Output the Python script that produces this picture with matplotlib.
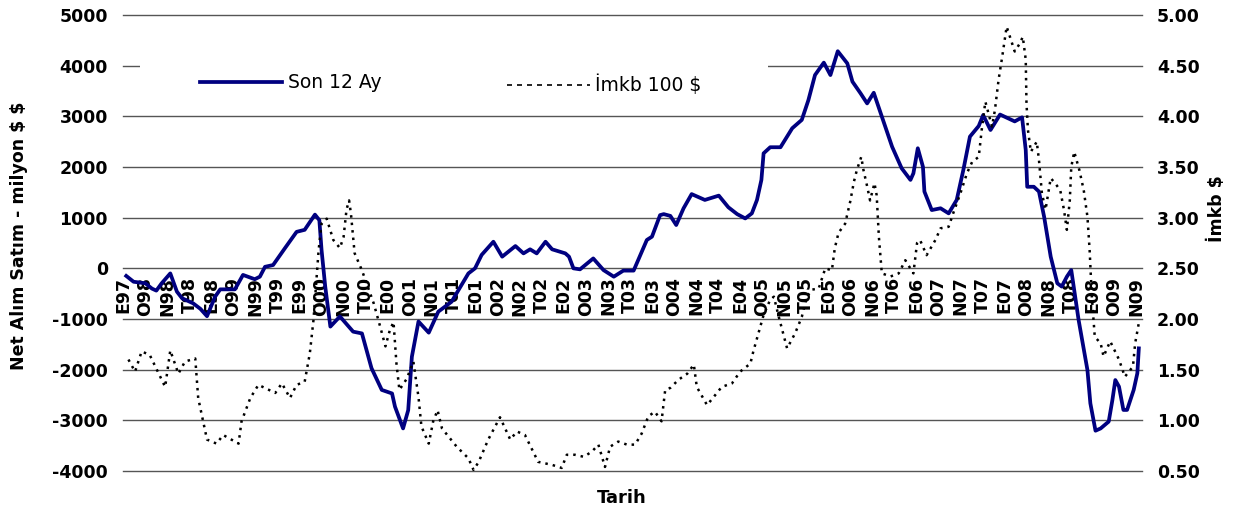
import matplotlib
matplotlib.use("Agg")
import matplotlib.pyplot as plt
from matplotlib.lines import Line2D
from matplotlib.patches import Rectangle

plt.rcParams['axes.unicode_minus'] = False
plt.rcParams['text.parse_math'] = False
plt.rcParams['font.family'] = ['DejaVu Sans']

# x positions are months since October 1997
tick_labels = ["E97", "O98", "N98", "T98", "E98", "O99", "N99", "T99", "E99",
               "O00", "N00", "T00", "E00", "O01", "N01", "T01", "E01",
               "O02", "N02", "T02", "E02", "O03", "N03", "T03", "E03",
               "O04", "N04", "T04", "E04", "O05", "N05", "T05", "E05",
               "O06", "N06", "T06", "E06", "O07", "N07", "T07", "E07",
               "O08", "N08", "T08", "E08", "O09", "N09"]

son12_month = [0.4, 1.4, 3.0, 3.9, 4.5, 5.2, 6.4, 7.3, 8.0, 9.5, 10.5, 11.4, 12.5, 13.2, 15.2,
               16.3, 17.9, 18.6, 19.3, 20.4, 22.0, 23.6, 24.7, 26.1, 26.7, 27.0, 27.5, 28.2,
               29.5, 31.3, 32.5, 33.8, 35.2, 36.6, 37.0, 38.1, 38.8, 39.3, 40.2, 41.6, 42.9,
               44.7, 47.0, 47.9, 48.8, 50.4, 51.6, 53.4, 54.5, 55.4, 56.3, 57.5, 58.4, 60.2,
               60.7, 61.3, 62.2, 64.0, 65.4, 66.8, 68.1, 69.5, 71.3, 72.0, 73.1, 73.6, 74.5,
               75.3, 76.3, 77.4, 79.2, 81.1, 82.4, 83.6, 84.7, 85.6, 86.3, 86.9, 87.2, 88.1,
               89.5, 91.1, 92.4, 93.3, 94.2, 95.4, 96.3, 97.3, 98.6, 99.3, 100.4, 101.3,
               102.2, 103.3, 104.7, 106.0, 107.2, 107.6, 108.2, 108.9, 109.1, 110.1, 111.3,
               112.4, 113.5, 114.4, 115.3, 116.5, 117.1, 118.1, 119.4, 121.4, 122.4, 122.9,
               123.1, 124.0, 124.7, 125.4, 126.3, 127.2, 127.8, 128.5, 129.1, 129.5, 130.1,
               131.3, 131.7, 132.4, 133.1, 134.2, 134.7, 135.1, 135.6, 136.2, 136.7, 137.6,
               138.1, 138.3]
son12_value = [-150, -265, -295, -400, -440, -300, -100, -460, -590, -690, -800, -945, -560,
               -415, -415, -130, -215, -165, 30, 65, 395, 720, 760, 1060, 950, 360, -360,
               -1150, -950, -1250, -1285, -1970, -2400, -2470, -2730, -3160, -2800, -1745,
               -1050, -1270, -855, -660, -100, 0, 265, 525, 230, 440, 295, 375, 295, 525, 375,
               295, 230, 0, -20, 195, -35, -165, -45, -45, 560, 625, 1050, 1070, 1035, 855,
               1185, 1465, 1350, 1435, 1205, 1070, 985, 1085, 1350, 1745, 2270, 2390, 2390,
               2765, 2930, 3320, 3815, 4060, 3815, 4285, 4045, 3685, 3455, 3255, 3465, 2995,
               2400, 1975, 1745, 1875, 2370, 2005, 1515, 1150, 1185, 1085, 1350, 1940, 2600,
               2810, 3025, 2730, 3035, 2900, 2980, 2335, 1610, 1610, 1515, 1020, 230, -295,
               -360, -165, -35, -430, -1020, -2005, -2665, -3205, -3160, -3025, -2600, -2205,
               -2335, -2795, -2795, -2400, -2070, -1580]

imkb_month = [0.7, 1.6, 2.5, 3.6, 5.7, 6.4, 7.5, 8.4, 9.8, 10.2, 11.4, 12.7, 13.6, 15.7, 16.1,
              17.3, 18.4, 20.7, 21.6, 22.7, 23.6, 24.7, 25.4, 25.9, 26.6, 27.0, 27.7, 28.6,
              29.5, 30.0, 30.4, 30.75, 31.0, 31.5, 32.5, 34.1, 35.0, 35.7, 36.3, 36.8, 37.2,
              37.6, 38.6, 39.5, 40.2, 40.6, 41.6, 42.2, 42.8, 43.4, 45.4, 47.0, 47.7, 48.4,
              49.7, 51.3, 52.7, 53.6, 54.7, 56.5, 58.4, 59.7, 60.4, 61.5, 62.7, 63.8, 64.7,
              65.6, 66.3, 67.4, 68.6, 69.7, 70.6, 71.5, 72.4, 73.3, 73.8, 74.5, 75.6, 76.8,
              77.7, 78.1, 79.5, 80.4, 81.5, 82.9, 84.0, 85.4, 85.8, 86.5, 87.2, 88.1, 88.6,
              89.2, 90.4, 91.5, 92.4, 93.1, 93.8, 94.7, 95.6, 96.5, 96.9, 97.4, 98.3, 99.0,
              99.5, 99.9, 100.5, 100.8, 101.3, 101.7, 102.3, 102.6, 102.9, 103.3, 104.5,
              105.6, 106.5, 107.6, 108.1, 108.5, 109.4, 110.6, 111.3, 112.4, 113.1, 114.0,
              114.9, 115.6, 116.5, 116.9, 117.4, 118.3, 118.7, 119.2, 119.7, 120.3, 121.4,
              122.1, 122.5, 122.9, 123.0, 123.2, 123.6, 124.4, 124.7, 125.1, 125.6, 126.3,
              126.9, 127.6, 128.1, 128.5, 128.9, 129.1, 129.5, 130.2, 130.8, 131.3, 131.6,
              131.9, 132.3, 133.1, 133.5, 134.4, 135.6, 136.4, 137.5, 137.8, 138.3]
imkb_value = [1.60, 1.48, 1.68, 1.645, 1.33, 1.69, 1.46, 1.58, 1.61, 1.22, 0.81, 0.77, 0.855,
              0.77, 0.99, 1.22, 1.35, 1.27, 1.365, 1.22, 1.35, 1.38, 1.66, 1.99, 2.68, 2.94,
              2.99, 2.78, 2.70, 2.81, 3.08, 3.17, 3.04, 2.65, 2.48, 2.155, 1.92, 1.73, 1.89,
              1.97, 1.56, 1.30, 1.41, 1.58, 1.23, 0.94, 0.77, 0.99, 1.10, 0.92, 0.74, 0.625,
              0.51, 0.59, 0.81, 1.03, 0.81, 0.89, 0.855, 0.59, 0.56, 0.53, 0.66, 0.66, 0.64,
              0.69, 0.76, 0.54, 0.74, 0.79, 0.76, 0.76, 0.87, 1.04, 1.085, 0.99, 1.30, 1.32,
              1.40, 1.46, 1.55, 1.33, 1.15, 1.23, 1.33, 1.365, 1.48, 1.56, 1.68, 1.86, 2.04,
              2.19, 2.22, 2.04, 1.71, 1.86, 2.02, 2.22, 2.29, 2.30, 2.50, 2.48, 2.70, 2.85,
              2.94, 3.16, 3.355, 3.47, 3.60, 3.47, 3.31, 3.17, 3.34, 3.22, 2.81, 2.45, 2.42,
              2.45, 2.58, 2.45, 2.75, 2.78, 2.63, 2.78, 2.895, 2.91, 3.06, 3.24, 3.44, 3.55,
              3.60, 3.865, 4.145, 3.90, 4.06, 4.36, 4.59, 4.885, 4.64, 4.72, 4.785, 4.56,
              4.13, 3.865, 3.65, 3.75, 3.57, 3.24, 3.08, 3.39, 3.34, 3.27, 3.08, 2.88, 3.17,
              3.50, 3.65, 3.47, 3.27, 3.01, 2.68, 2.22, 1.825, 1.76, 1.63, 1.78, 1.60, 1.43,
              1.53, 1.76, 1.96]

left_ticks = [-4000, -3000, -2000, -1000, 0, 1000, 2000, 3000, 4000, 5000]
right_ticks = [0.5, 1.0, 1.5, 2.0, 2.5, 3.0, 3.5, 4.0, 4.5, 5.0]

fig = plt.figure(figsize=(12.33, 5.14), dpi=100)
ax = fig.add_axes([0.1000, 0.0837, 0.8260, 0.8871])
ax2 = ax.twinx()

blue = '#000080'
ax.plot(son12_month, son12_value, color=blue, lw=2.7, solid_joinstyle='round', zorder=3)
ax2.plot(imkb_month, imkb_value, color='black', lw=1.8, linestyle=(0, (1.0, 2.0)),
         dash_capstyle='butt', zorder=3)

ax.set_xlim(0, 138.7)
ax.set_ylim(-4000, 5000)
ax2.set_ylim(0.5, 5.0)

# category axis crosses at zero
ax.spines['bottom'].set_position(('data', 0))
for a in (ax, ax2):
    for s in a.spines.values():
        s.set_visible(False)

ax.set_yticks(left_ticks)
ax.set_yticklabels([str(v) for v in left_ticks])
ax2.set_yticks(right_ticks)
ax2.set_yticklabels(["%.2f" % v for v in right_ticks])

ax.set_xticks(range(0, 3 * len(tick_labels), 3))
ax.set_xticklabels(tick_labels)
ax.tick_params(axis='x', length=0, pad=6, labelrotation=90, labelsize=12.5)
for lab in ax.get_xticklabels():
    lab.set_fontweight('bold')

ax.grid(axis='y', color='#555555', lw=1.0, zorder=0)
for gl in ax.get_ygridlines():
    gl.set_clip_on(False)
ax.set_axisbelow(True)
ax.tick_params(axis='y', length=0, pad=11, labelsize=12.5)
ax2.tick_params(axis='y', length=0, pad=11, labelsize=12.5)
for lab in ax.get_yticklabels() + ax2.get_yticklabels():
    lab.set_fontweight('bold')

# white legend area covering grid
ax.add_patch(Rectangle((0.0164, 0.8136), 0.6166, 0.131, transform=ax.transAxes,
                       facecolor='white', edgecolor='none', zorder=1))

h1 = Line2D([], [], color=blue, lw=2.7)
h2 = Line2D([], [], color='black', lw=1.2, linestyle=(0, (3, 3)))
leg1 = ax2.legend([h1], ["Son 12 Ay"], loc='center left', bbox_to_anchor=(0.0753, 0.851),
                  frameon=False, borderpad=0, borderaxespad=0, handlelength=4.4,
                  handletextpad=0.3, prop={'size': 13.5})
ax2.add_artist(leg1)
ax2.legend([h2], ["İmkb 100 $"], loc='center left', bbox_to_anchor=(0.3768, 0.846),
           frameon=False, borderpad=0, borderaxespad=0, handlelength=4.4,
           handletextpad=0.3, prop={'size': 13.5})

ax.set_ylabel("Net Alım Satım - milyon $ $", fontweight='bold', fontsize=12.5)
ax.yaxis.set_label_coords(-0.0936, 0.515)
ax2.set_ylabel("İmkb $", fontweight='bold', fontsize=12.5)
ax2.yaxis.set_label_coords(1.065, 0.575)
ax.set_xlabel("Tarih", fontweight='bold', fontsize=13)
ax.xaxis.set_label_coords(0.4897, -0.0395)

fig.savefig("out.png", dpi=100)
